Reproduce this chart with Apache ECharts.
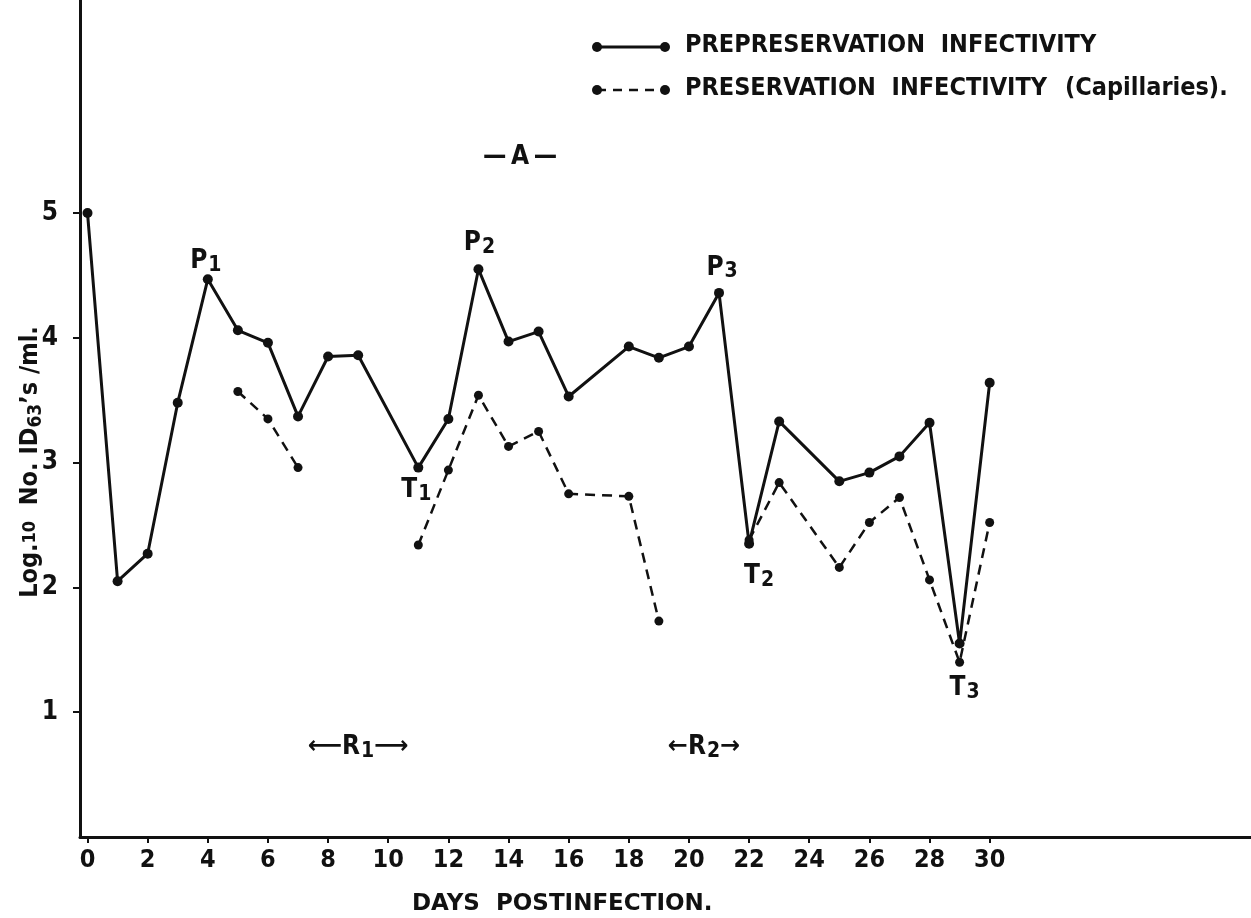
<!DOCTYPE html>
<html>
<head>
<meta charset="utf-8">
<script src="https://cdn.jsdelivr.net/npm/echarts@6/dist/echarts.min.js"></script>
<style>
html,body{margin:0;padding:0;background:#fff;}
#chart{width:1251px;height:918px;}
</style>
</head>
<body>
<div id="chart"></div>
<script>
// ---- data ----
const prepreservationDays = [0,1,2,3,4,5,6,7,8,9,11,12,13,14,15,16,18,19,20,21,22,23,25,26,27,28,29,30];
const prepreservationValues = [5.0,2.05,2.27,3.48,4.47,4.06,3.96,3.37,3.85,3.86,2.96,3.35,4.55,3.97,4.05,3.53,3.93,3.84,3.93,4.36,2.35,3.33,2.85,2.92,3.05,3.32,1.55,3.64];
const preservationDays = [5,6,7,9,11,12,13,14,15,16,18,19,20,22,23,25,26,27,28,29,30];
const preservationValues = [3.57,3.35,2.96,null,2.34,2.94,3.54,3.13,3.25,2.75,2.73,1.73,null,2.38,2.84,2.16,2.52,2.72,2.06,1.40,2.52];
const xTickValues = [0,2,4,6,8,10,12,14,16,18,20,22,24,26,28,30];
const yTickValues = [1,2,3,4,5];
const peakLabels = [
  {name:'P', sub:'1', day:4, value:4.47, offset:[-2,-18]},
  {name:'P', sub:'2', day:13, value:4.55, offset:[1,-26]},
  {name:'P', sub:'3', day:21, value:4.36, offset:[3,-25]},
  {name:'T', sub:'1', day:11, value:2.96, offset:[-2,23]},
  {name:'T', sub:'2', day:22, value:2.35, offset:[10,33]},
  {name:'T', sub:'3', day:29, value:1.55, offset:[5,45]}
];
const rangeLabels = [
  {sub:'1', day:9.0, value:0.72, left:'\u27F5', right:'\u27F6'},
  {sub:'2', day:20.5, value:0.72, left:'\u2190', right:'\u2192'}
];

const FONT = "'DejaVu Sans Condensed',sans-serif";
const chart = echarts.init(document.getElementById('chart'), null, {renderer:'canvas'});

const solidData = prepreservationDays.map((d,i)=>[d, prepreservationValues[i]]);
const dashedData = preservationDays.map((d,i)=>[d, preservationValues[i]===null ? '-' : preservationValues[i]]);

const markRich = {
  b:{fontFamily:FONT, fontWeight:'bold', fontSize:26, color:'#111'},
  s:{fontFamily:FONT, fontWeight:'bold', fontSize:21, color:'#111', padding:[8,0,0,1]},
  ar:{fontFamily:"'DejaVu Sans',sans-serif", fontWeight:'bold', fontSize:24, color:'#111'}
};

const option = {
  backgroundColor:'#fff',
  animation:false,
  grid:{left:80, top:0, width:1171, height:837, containLabel:false},
  xAxis:{
    type:'value', min:-0.25, max:38.69,
    axisLine:{show:true, onZero:false, lineStyle:{color:'#111', width:3}},
    axisTick:{show:true, customValues:xTickValues, length:6, lineStyle:{color:'#111', width:2}},
    axisLabel:{show:true, customValues:xTickValues, margin:11, color:'#111', fontFamily:FONT, fontWeight:'bold', fontSize:25},
    splitLine:{show:false}
  },
  yAxis:{
    type:'value', min:0, max:6.707,
    axisLine:{show:true, onZero:false, lineStyle:{color:'#111', width:3}},
    axisTick:{show:true, customValues:yTickValues, length:7, lineStyle:{color:'#111', width:2}},
    axisLabel:{show:true, customValues:yTickValues, margin:22, color:'#111', fontFamily:FONT, fontWeight:'bold', fontSize:26},
    splitLine:{show:false}
  },
  series:[
    {
      name:'PREPRESERVATION INFECTIVITY', type:'line', data:solidData,
      symbol:'circle', symbolSize:10, showSymbol:true,
      lineStyle:{color:'#111', width:3}, itemStyle:{color:'#111'},
      z:3,
      markPoint:{
        symbol:'circle', symbolSize:0, silent:true,
        label:{show:true, position:'inside', formatter:p=>p.data.txt, rich:markRich},
        itemStyle:{color:'transparent'},
        data: peakLabels.map(p=>({coord:[p.day,p.value], txt:'{b|'+p.name+'}{s|'+p.sub+'}', label:{offset:p.offset}}))
          .concat(rangeLabels.map(r=>({coord:[r.day,r.value], txt:'{ar|'+r.left+'}{b|R}{s|'+r.sub+'}{ar|'+r.right+'}'})))
      }
    },
    {
      name:'PRESERVATION INFECTIVITY (Capillaries).', type:'line', data:dashedData,
      connectNulls:false,
      symbol:'circle', symbolSize:9, showSymbol:true,
      lineStyle:{color:'#111', width:2.5, type:[10,7]}, itemStyle:{color:'#111'},
      z:2
    }
  ],
  graphic:[
    // legend row 1
    {type:'line', shape:{x1:597,y1:47,x2:665,y2:47}, style:{stroke:'#111', lineWidth:3}},
    {type:'circle', shape:{cx:597,cy:47,r:5}, style:{fill:'#111'}},
    {type:'circle', shape:{cx:665,cy:47,r:5}, style:{fill:'#111'}},
    {type:'text', left:685, top:33, style:{text:'PREPRESERVATION  INFECTIVITY', fill:'#111', font:"bold 25px "+FONT}},
    // legend row 2
    {type:'line', shape:{x1:597,y1:90,x2:665,y2:90}, style:{stroke:'#111', lineWidth:2.5, lineDash:[9,7]}},
    {type:'circle', shape:{cx:597,cy:90,r:5}, style:{fill:'#111'}},
    {type:'circle', shape:{cx:665,cy:90,r:5}, style:{fill:'#111'}},
    {type:'text', left:685, top:76, style:{
      text:'{a|PRESERVATION  INFECTIVITY}{c|(Capillaries).}',
      rich:{
        a:{fill:'#111', fontFamily:FONT, fontWeight:'bold', fontSize:25, padding:[0,18,0,0]},
        c:{fill:'#111', fontFamily:"'DejaVu Sans Condensed',sans-serif", fontWeight:'bold', fontSize:25}
      }
    }},
    // title
    {type:'text', x:520, y:157, style:{text:'\u2014\u2009A\u2009\u2014', fill:'#111', font:"bold 26px "+FONT, align:'center', verticalAlign:'middle'}},
    // y axis title
    {type:'text', x:30, y:462, rotation:Math.PI/2, style:{
      text:'{t|Log.}{ts|10}{t|  No. ID}{sub|63}{t|\u2019s /ml.}',
      align:'center', verticalAlign:'middle',
      rich:{
        t:{fill:'#111', fontFamily:FONT, fontWeight:'bold', fontSize:25},
        ts:{fill:'#111', fontFamily:FONT, fontWeight:'bold', fontSize:18},
        sub:{fill:'#111', fontFamily:FONT, fontWeight:'bold', fontSize:19, padding:[12,0,0,0]}
      }
    }},
    // x axis title
    {type:'text', left:412, top:893, style:{text:'DAYS  POSTINFECTION.', fill:'#111', font:"bold 23px 'DejaVu Sans',sans-serif"}}
  ]
};
chart.setOption(option);
</script>
</body>
</html>
